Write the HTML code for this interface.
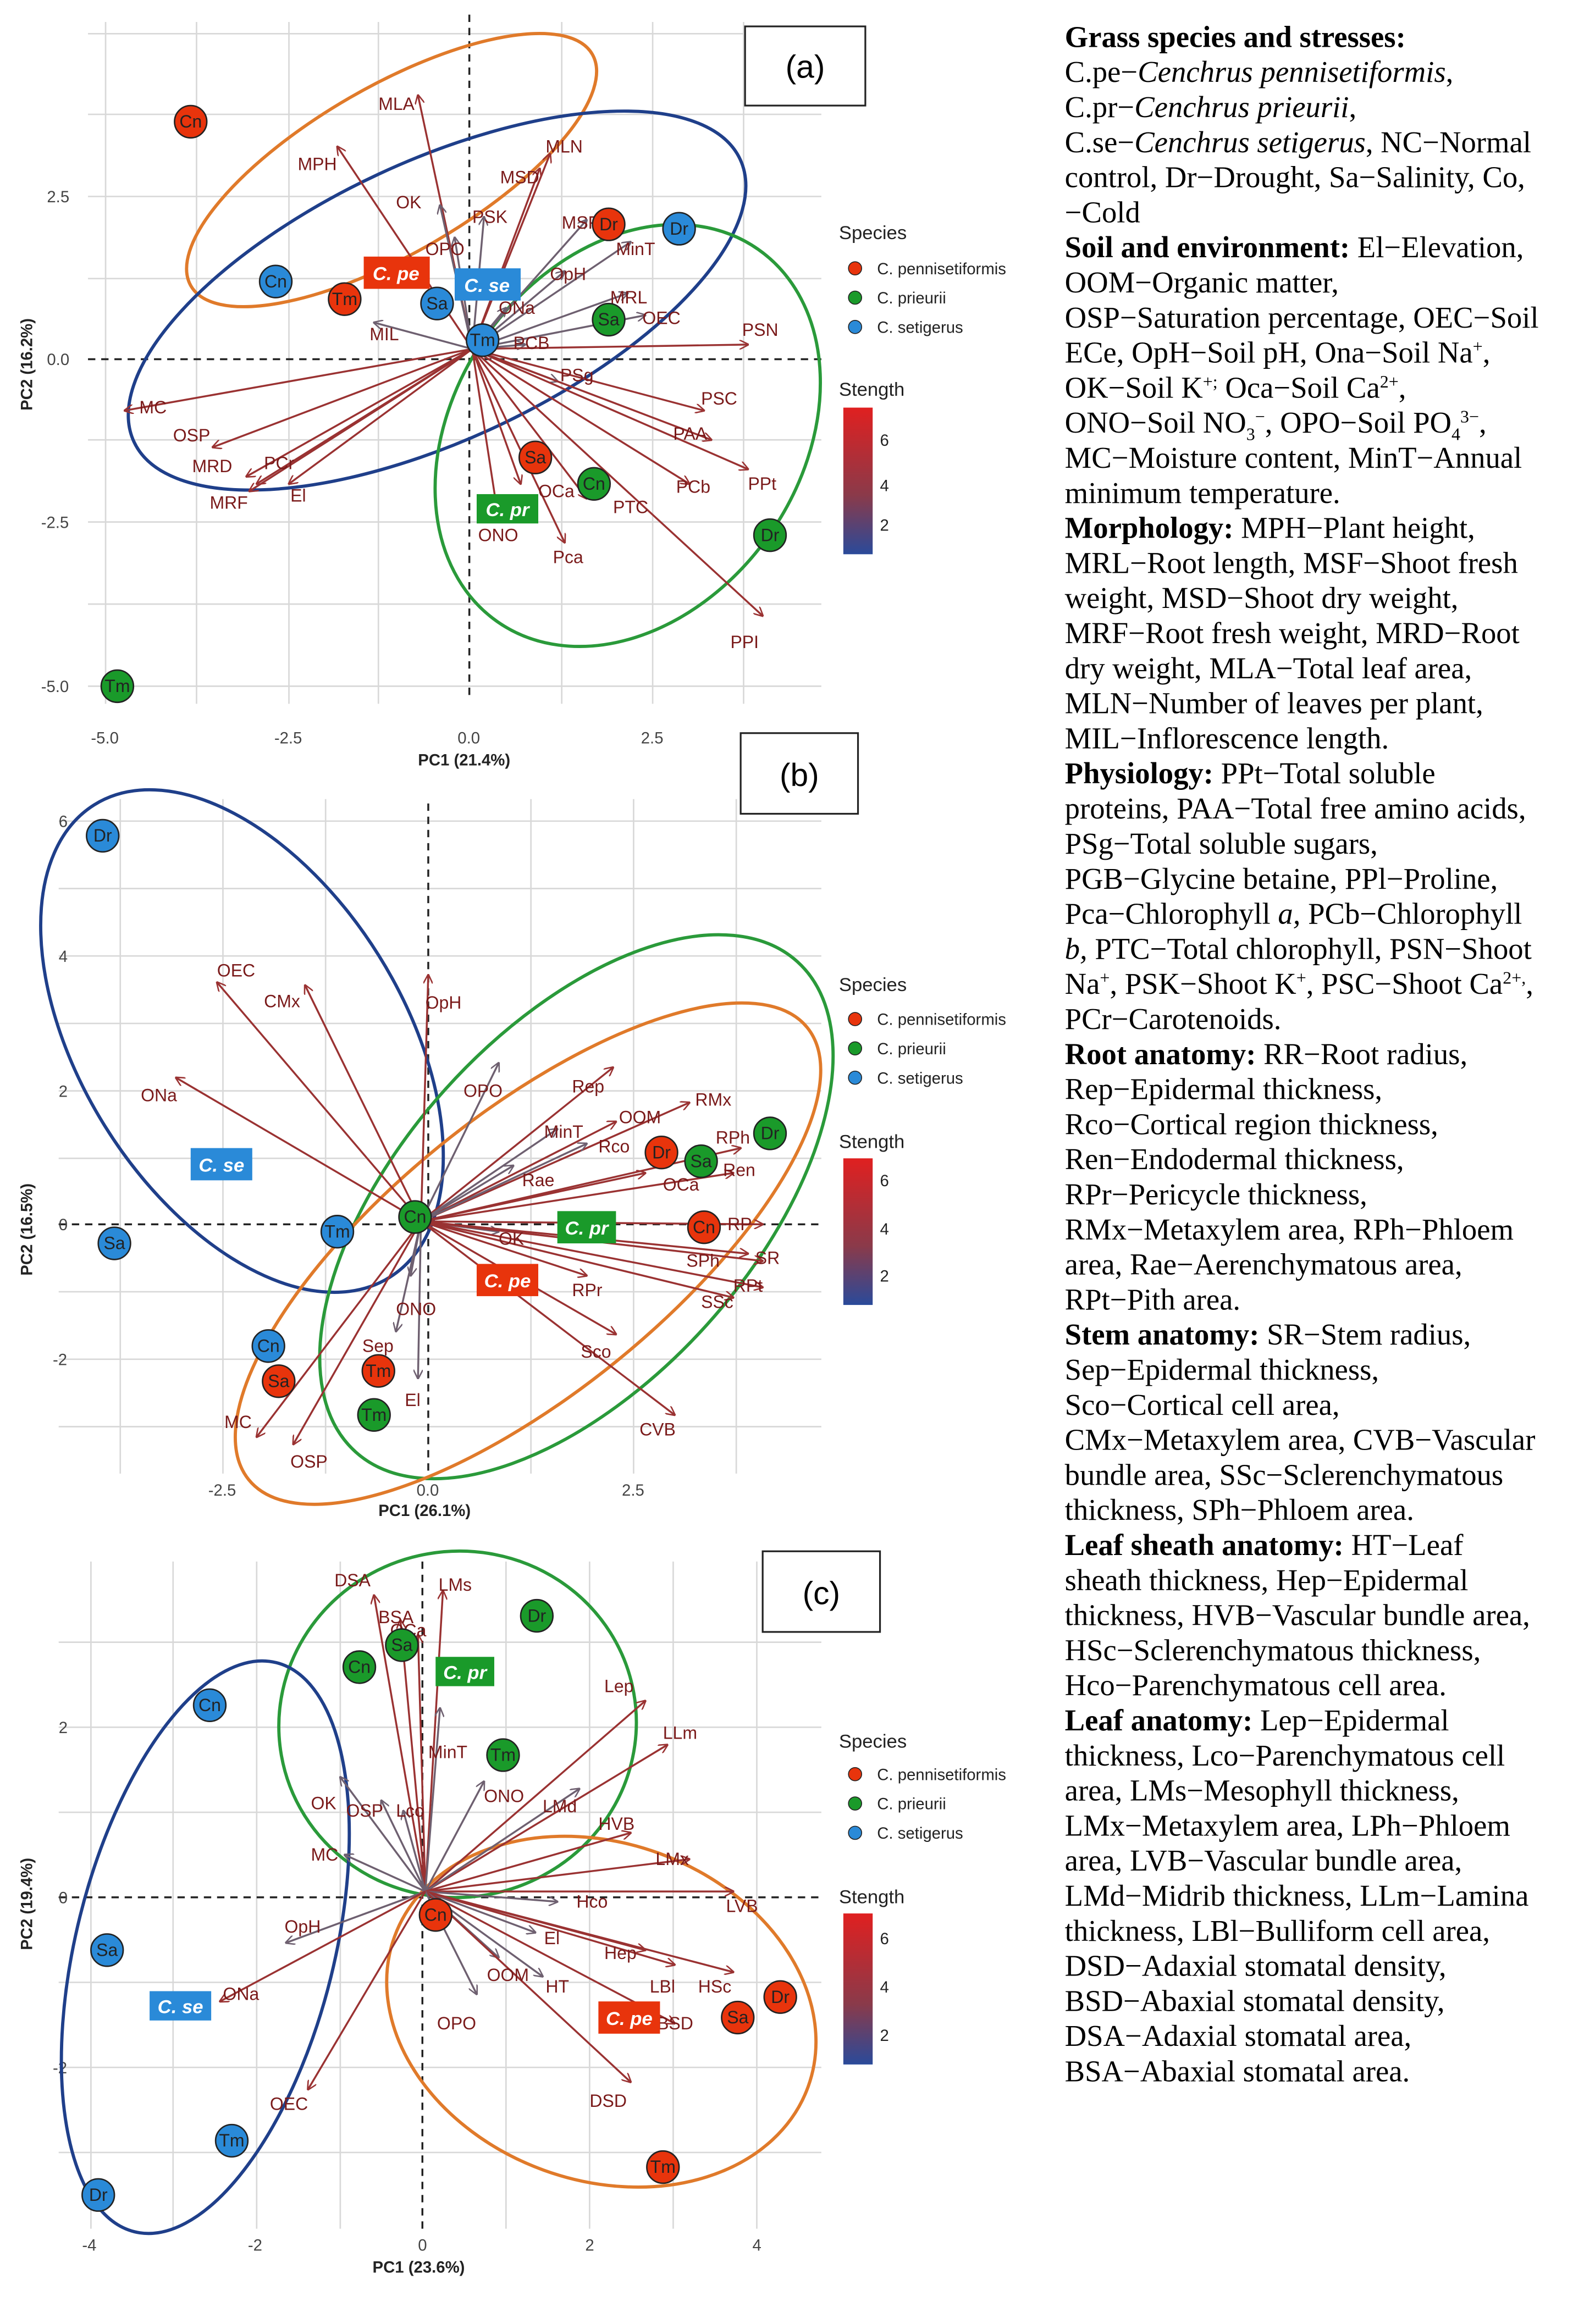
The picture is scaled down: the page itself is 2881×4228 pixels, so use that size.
<!DOCTYPE html>
<html><head><meta charset="utf-8">
<style>
html,body{margin:0;padding:0;background:#fff;}
svg{display:block;}
.a{stroke:#9a3232;stroke-width:1.3;marker-end:url(#ar);}
.g{stroke:#6e6070;stroke-width:1.3;marker-end:url(#ag);}
.l{font:12px "Liberation Sans",sans-serif;fill:#7a1a1a;}
.t{font:11px "Liberation Sans",sans-serif;fill:#444;}
.ax{font:bold 11px "Liberation Sans",sans-serif;fill:#222;}
.p{stroke:#222;stroke-width:1;}
.pt{font:12px "Liberation Sans",sans-serif;fill:#222;text-anchor:middle;}
.lg{font:11px "Liberation Sans",sans-serif;fill:#222;}
.d{stroke:#222;stroke-width:1.3;stroke-dasharray:5,4;}
.gr line{stroke:#d8d8d8;stroke-width:1;}
.rt{font:20.5px "Liberation Serif",serif;fill:#000;}
.bx{font:italic bold 13px "Liberation Sans",sans-serif;fill:#fff;text-anchor:middle;}
</style></head><body>
<svg width="2881" height="4228" viewBox="0 0 1080 1585" preserveAspectRatio="none" xmlns="http://www.w3.org/2000/svg">
<defs>
<marker id="ar" viewBox="0 0 10 10" refX="9" refY="5" markerWidth="5" markerHeight="5" orient="auto"><path d="M0,0 L10,5 L0,10" fill="none" stroke="#9a3232" stroke-width="1.5"/></marker>
<marker id="ag" viewBox="0 0 10 10" refX="9" refY="5" markerWidth="5" markerHeight="5" orient="auto"><path d="M0,0 L10,5 L0,10" fill="none" stroke="#6e6070" stroke-width="1.5"/></marker>
<linearGradient id="cb" x1="0" y1="0" x2="0" y2="1"><stop offset="0" stop-color="#e02020"/><stop offset="0.6" stop-color="#8a3a4a"/><stop offset="1" stop-color="#2a4a9a"/></linearGradient>
</defs>
<rect width="1080" height="1585" fill="#fff"/>

<!-- grids -->
<g class="gr">
<line x1="72" y1="15" x2="72" y2="480"/><line x1="134" y1="15" x2="134" y2="480"/><line x1="197" y1="15" x2="197" y2="480"/><line x1="258" y1="15" x2="258" y2="480"/><line x1="383" y1="15" x2="383" y2="480"/><line x1="445" y1="15" x2="445" y2="480"/><line x1="507" y1="15" x2="507" y2="480"/>
<line x1="60" y1="23" x2="560" y2="23"/><line x1="60" y1="78" x2="560" y2="78"/><line x1="60" y1="134" x2="560" y2="134"/><line x1="60" y1="190" x2="560" y2="190"/><line x1="60" y1="300" x2="560" y2="300"/><line x1="60" y1="356" x2="560" y2="356"/><line x1="60" y1="412" x2="560" y2="412"/><line x1="60" y1="468" x2="560" y2="468"/>

<line x1="82" y1="545" x2="82" y2="1005"/><line x1="152" y1="545" x2="152" y2="1005"/><line x1="222" y1="545" x2="222" y2="1005"/><line x1="362" y1="545" x2="362" y2="1005"/><line x1="432" y1="545" x2="432" y2="1005"/><line x1="502" y1="545" x2="502" y2="1005"/>
<line x1="40" y1="560" x2="560" y2="560"/><line x1="40" y1="606" x2="560" y2="606"/><line x1="40" y1="652" x2="560" y2="652"/><line x1="40" y1="698" x2="560" y2="698"/><line x1="40" y1="744" x2="560" y2="744"/><line x1="40" y1="790" x2="560" y2="790"/><line x1="40" y1="881" x2="560" y2="881"/><line x1="40" y1="927" x2="560" y2="927"/><line x1="40" y1="973" x2="560" y2="973"/>

<line x1="62" y1="1065" x2="62" y2="1520"/><line x1="118" y1="1065" x2="118" y2="1520"/><line x1="175" y1="1065" x2="175" y2="1520"/><line x1="232" y1="1065" x2="232" y2="1520"/><line x1="345" y1="1065" x2="345" y2="1520"/><line x1="402" y1="1065" x2="402" y2="1520"/><line x1="459" y1="1065" x2="459" y2="1520"/><line x1="516" y1="1065" x2="516" y2="1520"/>
<line x1="40" y1="1120" x2="560" y2="1120"/><line x1="40" y1="1178" x2="560" y2="1178"/><line x1="40" y1="1236" x2="560" y2="1236"/><line x1="40" y1="1352" x2="560" y2="1352"/><line x1="40" y1="1410" x2="560" y2="1410"/><line x1="40" y1="1468" x2="560" y2="1468"/>
</g>

<!-- ===== Panel A ===== -->
<line class="d" x1="320" y1="10" x2="320" y2="478"/>
<line class="d" x1="60" y1="245" x2="560" y2="245"/>
<text class="t" x="32" y="138">2.5</text><text class="t" x="32" y="249">0.0</text><text class="t" x="28" y="360">-2.5</text><text class="t" x="28" y="472">-5.0</text>
<text class="t" x="62" y="507">-5.0</text><text class="t" x="187" y="507">-2.5</text><text class="t" x="312" y="507">0.0</text><text class="t" x="437" y="507">2.5</text>
<text class="ax" x="285" y="522">PC1 (21.4%)</text>
<text class="ax" transform="translate(22,280) rotate(-90)">PC2 (16.2%)</text>
<rect x="508" y="18" width="82" height="54" fill="#fff" stroke="#222" stroke-width="1.2"/>
<text x="549" y="53" text-anchor="middle" style="font:22px 'Liberation Sans',sans-serif">(a)</text>

<ellipse cx="267" cy="116" rx="158" ry="57" transform="rotate(-30 267 116)" fill="none" stroke="#e07a2a" stroke-width="2.2"/>
<ellipse cx="298" cy="205" rx="228" ry="95" transform="rotate(-25 298 205)" fill="none" stroke="#1f3f8a" stroke-width="2.2"/>
<ellipse cx="428" cy="297" rx="155" ry="118" transform="rotate(-55 428 297)" fill="none" stroke="#2a9a3a" stroke-width="2.2"/>

<g>
<line class="a" x1="322" y1="238" x2="285" y2="65"/><line class="a" x1="322" y1="238" x2="230" y2="100"/>
<line class="a" x1="322" y1="238" x2="375" y2="105"/><line class="a" x1="322" y1="238" x2="368" y2="115"/>
<line class="g" x1="322" y1="238" x2="300" y2="140"/><line class="g" x1="322" y1="238" x2="330" y2="148"/>
<line class="g" x1="322" y1="238" x2="400" y2="150"/><line class="g" x1="322" y1="238" x2="310" y2="162"/>
<line class="g" x1="322" y1="238" x2="385" y2="185"/><line class="g" x1="322" y1="238" x2="430" y2="165"/>
<line class="g" x1="322" y1="238" x2="428" y2="200"/><line class="g" x1="322" y1="238" x2="345" y2="210"/>
<line class="g" x1="322" y1="238" x2="440" y2="215"/><line class="g" x1="322" y1="238" x2="255" y2="220"/>
<line class="g" x1="322" y1="238" x2="358" y2="235"/><line class="a" x1="322" y1="238" x2="510" y2="235"/>
<line class="g" x1="322" y1="238" x2="380" y2="260"/><line class="a" x1="322" y1="238" x2="480" y2="280"/>
<line class="a" x1="322" y1="238" x2="485" y2="300"/><line class="a" x1="322" y1="238" x2="510" y2="320"/>
<line class="a" x1="322" y1="238" x2="470" y2="330"/><line class="a" x1="322" y1="238" x2="520" y2="420"/>
<line class="a" x1="322" y1="238" x2="400" y2="340"/><line class="a" x1="322" y1="238" x2="385" y2="370"/>
<line class="a" x1="322" y1="238" x2="355" y2="330"/><line class="a" x1="322" y1="238" x2="340" y2="355"/>
<line class="a" x1="322" y1="238" x2="85" y2="280"/><line class="a" x1="322" y1="238" x2="145" y2="305"/>
<line class="a" x1="322" y1="238" x2="168" y2="325"/><line class="a" x1="322" y1="238" x2="175" y2="330"/>
<line class="a" x1="322" y1="238" x2="170" y2="335"/><line class="a" x1="322" y1="238" x2="197" y2="330"/>
</g>
<g class="l">
<text x="258" y="75">MLA</text><text x="203" y="116">MPH</text><text x="372" y="104">MLN</text><text x="341" y="125">MSD</text>
<text x="270" y="142">OK</text><text x="322" y="152">PSK</text><text x="383" y="156">MSF</text><text x="290" y="174">OPO</text>
<text x="375" y="191">OpH</text><text x="420" y="174">MinT</text><text x="416" y="207">MRL</text><text x="340" y="214">ONa</text>
<text x="438" y="221">OEC</text><text x="252" y="232">MIL</text><text x="350" y="238">PCB</text><text x="506" y="229">PSN</text>
<text x="382" y="260">PSg</text><text x="478" y="276">PSC</text><text x="459" y="300">PAA</text><text x="510" y="334">PPt</text>
<text x="461" y="336">PCb</text><text x="498" y="442">PPI</text><text x="418" y="350">PTC</text><text x="377" y="384">Pca</text>
<text x="367" y="339">OCa</text><text x="326" y="369">ONO</text><text x="95" y="282">MC</text><text x="118" y="301">OSP</text>
<text x="131" y="322">MRD</text><text x="180" y="320">PCr</text><text x="143" y="347">MRF</text><text x="198" y="342">El</text>
</g>
<g>
<circle class="p" cx="130" cy="83" r="11" fill="#e8340c"/><text class="pt" x="130" y="87">Cn</text>
<circle class="p" cx="415" cy="153" r="11" fill="#e8340c"/><text class="pt" x="415" y="157">Dr</text>
<circle class="p" cx="463" cy="156" r="11" fill="#2a8ad8"/><text class="pt" x="463" y="160">Dr</text>
<circle class="p" cx="188" cy="192" r="11" fill="#2a8ad8"/><text class="pt" x="188" y="196">Cn</text>
<circle class="p" cx="235" cy="204" r="11" fill="#e8340c"/><text class="pt" x="235" y="208">Tm</text>
<circle class="p" cx="298" cy="207" r="11" fill="#2a8ad8"/><text class="pt" x="298" y="211">Sa</text>
<circle class="p" cx="329" cy="232" r="11" fill="#2a8ad8"/><text class="pt" x="329" y="236">Tm</text>
<circle class="p" cx="415" cy="218" r="11" fill="#1a9a2a"/><text class="pt" x="415" y="222">Sa</text>
<circle class="p" cx="365" cy="312" r="11" fill="#e8340c"/><text class="pt" x="365" y="316">Sa</text>
<circle class="p" cx="405" cy="330" r="11" fill="#1a9a2a"/><text class="pt" x="405" y="334">Cn</text>
<circle class="p" cx="525" cy="365" r="11" fill="#1a9a2a"/><text class="pt" x="525" y="369">Dr</text>
<circle class="p" cx="80" cy="468" r="11" fill="#1a9a2a"/><text class="pt" x="80" y="472">Tm</text>
<rect x="248" y="175" width="45" height="22" fill="#e8340c"/><text class="bx" x="270" y="191">C. pe</text>
<rect x="310" y="183" width="45" height="22" fill="#2a8ad8"/><text class="bx" x="332" y="199">C. se</text>
<rect x="325" y="337" width="42" height="20" fill="#1a9a2a"/><text class="bx" x="346" y="352">C. pr</text>
</g>
<g class="lg">
<text x="572" y="163" style="font-size:13px">Species</text>
<circle cx="583" cy="183" r="4.5" fill="#e8340c" stroke="#222" stroke-width=".6"/><text x="598" y="187">C. pennisetiformis</text>
<circle cx="583" cy="203" r="4.5" fill="#1a9a2a" stroke="#222" stroke-width=".6"/><text x="598" y="207">C. prieurii</text>
<circle cx="583" cy="223" r="4.5" fill="#2a8ad8" stroke="#222" stroke-width=".6"/><text x="598" y="227">C. setigerus</text>
<text x="572" y="270" style="font-size:13px">Stength</text>
<rect x="575" y="278" width="20" height="100" fill="url(#cb)"/>
<text x="600" y="304">6</text><text x="600" y="335">4</text><text x="600" y="362">2</text>
</g>

<!-- ===== Panel B ===== -->
<line class="d" x1="292" y1="548" x2="292" y2="1005"/>
<line class="d" x1="40" y1="835" x2="560" y2="835"/>
<text class="t" x="40" y="564">6</text><text class="t" x="40" y="656">4</text><text class="t" x="40" y="748">2</text><text class="t" x="40" y="839">0</text><text class="t" x="36" y="931">-2</text>
<text class="t" x="142" y="1020">-2.5</text><text class="t" x="284" y="1020">0.0</text><text class="t" x="424" y="1020">2.5</text>
<text class="ax" x="258" y="1034">PC1 (26.1%)</text>
<text class="ax" transform="translate(22,870) rotate(-90)">PC2 (16.5%)</text>
<rect x="505" y="500" width="80" height="55" fill="#fff" stroke="#222" stroke-width="1.2"/>
<text x="545" y="536" text-anchor="middle" style="font:22px 'Liberation Sans',sans-serif">(b)</text>

<ellipse cx="165" cy="710" rx="190" ry="110" transform="rotate(58 165 710)" fill="none" stroke="#1f3f8a" stroke-width="2.2"/>
<ellipse cx="393" cy="823" rx="225" ry="120" transform="rotate(-48 393 823)" fill="none" stroke="#2a9a3a" stroke-width="2.2"/>
<ellipse cx="360" cy="855" rx="245" ry="95" transform="rotate(-39 360 855)" fill="none" stroke="#e07a2a" stroke-width="2.2"/>

<g>
<line class="a" x1="287" y1="833" x2="148" y2="670"/><line class="a" x1="287" y1="833" x2="208" y2="672"/>
<line class="a" x1="287" y1="833" x2="292" y2="665"/><line class="a" x1="287" y1="833" x2="120" y2="735"/>
<line class="g" x1="287" y1="833" x2="340" y2="725"/><line class="a" x1="287" y1="833" x2="418" y2="728"/>
<line class="a" x1="287" y1="833" x2="420" y2="765"/><line class="a" x1="287" y1="833" x2="470" y2="752"/>
<line class="g" x1="287" y1="833" x2="380" y2="770"/><line class="g" x1="287" y1="833" x2="400" y2="780"/>
<line class="g" x1="287" y1="833" x2="350" y2="795"/><line class="a" x1="287" y1="833" x2="505" y2="783"/>
<line class="a" x1="287" y1="833" x2="500" y2="800"/><line class="a" x1="287" y1="833" x2="440" y2="800"/>
<line class="a" x1="287" y1="833" x2="520" y2="835"/><line class="g" x1="287" y1="833" x2="340" y2="840"/>
<line class="a" x1="287" y1="833" x2="510" y2="855"/><line class="a" x1="287" y1="833" x2="520" y2="860"/>
<line class="a" x1="287" y1="833" x2="520" y2="878"/><line class="a" x1="287" y1="833" x2="400" y2="870"/>
<line class="a" x1="287" y1="833" x2="500" y2="885"/><line class="a" x1="287" y1="833" x2="420" y2="910"/>
<line class="a" x1="287" y1="833" x2="460" y2="965"/><line class="g" x1="287" y1="833" x2="280" y2="870"/>
<line class="g" x1="287" y1="833" x2="270" y2="908"/><line class="g" x1="287" y1="833" x2="285" y2="940"/>
<line class="a" x1="287" y1="833" x2="175" y2="980"/><line class="a" x1="287" y1="833" x2="200" y2="985"/>
</g>
<g class="l">
<text x="148" y="666">OEC</text><text x="180" y="687">CMx</text><text x="290" y="688">OpH</text><text x="96" y="751">ONa</text>
<text x="316" y="748">OPO</text><text x="390" y="745">Rep</text><text x="422" y="766">OOM</text><text x="474" y="754">RMx</text>
<text x="371" y="776">MinT</text><text x="408" y="786">Rco</text><text x="356" y="809">Rae</text><text x="488" y="780">RPh</text>
<text x="493" y="802">Ren</text><text x="452" y="812">OCa</text><text x="496" y="839">RP</text><text x="340" y="849">OK</text>
<text x="468" y="864">SPh</text><text x="515" y="862">SR</text><text x="500" y="881">RPt</text><text x="390" y="884">RPr</text>
<text x="478" y="892">SSc</text><text x="396" y="926">Sco</text><text x="436" y="979">CVB</text><text x="270" y="897">ONO</text>
<text x="247" y="922">Sep</text><text x="276" y="959">El</text><text x="153" y="974">MC</text><text x="198" y="1001">OSP</text>
</g>
<g>
<circle class="p" cx="70" cy="570" r="11" fill="#2a8ad8"/><text class="pt" x="70" y="574">Dr</text>
<circle class="p" cx="78" cy="848" r="11" fill="#2a8ad8"/><text class="pt" x="78" y="852">Sa</text>
<circle class="p" cx="230" cy="840" r="11" fill="#2a8ad8"/><text class="pt" x="230" y="844">Tm</text>
<circle class="p" cx="283" cy="830" r="11" fill="#1a9a2a"/><text class="pt" x="283" y="834">Cn</text>
<circle class="p" cx="451" cy="786" r="11" fill="#e8340c"/><text class="pt" x="451" y="790">Dr</text>
<circle class="p" cx="478" cy="792" r="11" fill="#1a9a2a"/><text class="pt" x="478" y="796">Sa</text>
<circle class="p" cx="525" cy="773" r="11" fill="#1a9a2a"/><text class="pt" x="525" y="777">Dr</text>
<circle class="p" cx="480" cy="837" r="11" fill="#e8340c"/><text class="pt" x="480" y="841">Cn</text>
<circle class="p" cx="183" cy="918" r="11" fill="#2a8ad8"/><text class="pt" x="183" y="922">Cn</text>
<circle class="p" cx="190" cy="942" r="11" fill="#e8340c"/><text class="pt" x="190" y="946">Sa</text>
<circle class="p" cx="258" cy="935" r="11" fill="#e8340c"/><text class="pt" x="258" y="939">Tm</text>
<circle class="p" cx="255" cy="965" r="11" fill="#1a9a2a"/><text class="pt" x="255" y="969">Tm</text>
<rect x="130" y="783" width="42" height="22" fill="#2a8ad8"/><text class="bx" x="151" y="799">C. se</text>
<rect x="380" y="826" width="40" height="22" fill="#1a9a2a"/><text class="bx" x="400" y="842">C. pr</text>
<rect x="325" y="862" width="42" height="22" fill="#e8340c"/><text class="bx" x="346" y="878">C. pe</text>
</g>
<g class="lg">
<text x="572" y="676" style="font-size:13px">Species</text>
<circle cx="583" cy="695" r="4.5" fill="#e8340c" stroke="#222" stroke-width=".6"/><text x="598" y="699">C. pennisetiformis</text>
<circle cx="583" cy="715" r="4.5" fill="#1a9a2a" stroke="#222" stroke-width=".6"/><text x="598" y="719">C. prieurii</text>
<circle cx="583" cy="735" r="4.5" fill="#2a8ad8" stroke="#222" stroke-width=".6"/><text x="598" y="739">C. setigerus</text>
<text x="572" y="783" style="font-size:13px">Stength</text>
<rect x="575" y="790" width="20" height="100" fill="url(#cb)"/>
<text x="600" y="809">6</text><text x="600" y="842">4</text><text x="600" y="874">2</text>
</g>

<!-- ===== Panel C ===== -->
<line class="d" x1="288" y1="1065" x2="288" y2="1520"/>
<line class="d" x1="40" y1="1294" x2="560" y2="1294"/>
<text class="t" x="40" y="1182">2</text><text class="t" x="40" y="1298">0</text><text class="t" x="36" y="1414">-2</text>
<text class="t" x="56" y="1535">-4</text><text class="t" x="169" y="1535">-2</text><text class="t" x="285" y="1535">0</text><text class="t" x="399" y="1535">2</text><text class="t" x="513" y="1535">4</text>
<text class="ax" x="254" y="1550">PC1 (23.6%)</text>
<text class="ax" transform="translate(22,1330) rotate(-90)">PC2 (19.4%)</text>
<rect x="520" y="1058" width="80" height="55" fill="#fff" stroke="#222" stroke-width="1.2"/>
<text x="560" y="1094" text-anchor="middle" style="font:22px 'Liberation Sans',sans-serif">(c)</text>

<ellipse cx="312" cy="1176" rx="122" ry="118" transform="rotate(-10 312 1176)" fill="none" stroke="#2a9a3a" stroke-width="2.2"/>
<ellipse cx="140" cy="1328" rx="200" ry="88" transform="rotate(-76 140 1328)" fill="none" stroke="#1f3f8a" stroke-width="2.2"/>
<ellipse cx="410" cy="1372" rx="150" ry="115" transform="rotate(20 410 1372)" fill="none" stroke="#e07a2a" stroke-width="2.2"/>

<g>
<line class="a" x1="290" y1="1290" x2="255" y2="1088"/><line class="a" x1="290" y1="1290" x2="302" y2="1085"/>
<line class="a" x1="290" y1="1290" x2="273" y2="1105"/><line class="a" x1="290" y1="1290" x2="285" y2="1115"/>
<line class="g" x1="290" y1="1290" x2="300" y2="1165"/><line class="a" x1="290" y1="1290" x2="440" y2="1160"/>
<line class="a" x1="290" y1="1290" x2="455" y2="1190"/><line class="g" x1="290" y1="1290" x2="232" y2="1212"/>
<line class="g" x1="290" y1="1290" x2="260" y2="1228"/><line class="g" x1="290" y1="1290" x2="275" y2="1235"/>
<line class="g" x1="290" y1="1290" x2="330" y2="1215"/><line class="g" x1="290" y1="1290" x2="395" y2="1220"/>
<line class="a" x1="290" y1="1290" x2="430" y2="1250"/><line class="g" x1="290" y1="1290" x2="235" y2="1265"/>
<line class="a" x1="290" y1="1290" x2="470" y2="1268"/><line class="a" x1="290" y1="1290" x2="500" y2="1290"/>
<line class="g" x1="290" y1="1290" x2="380" y2="1297"/><line class="g" x1="290" y1="1290" x2="195" y2="1325"/>
<line class="g" x1="290" y1="1290" x2="365" y2="1318"/><line class="a" x1="290" y1="1290" x2="440" y2="1330"/>
<line class="a" x1="290" y1="1290" x2="460" y2="1340"/><line class="a" x1="290" y1="1290" x2="500" y2="1345"/>
<line class="a" x1="290" y1="1290" x2="460" y2="1380"/><line class="a" x1="290" y1="1290" x2="150" y2="1365"/>
<line class="g" x1="290" y1="1290" x2="340" y2="1335"/><line class="g" x1="290" y1="1290" x2="370" y2="1348"/>
<line class="a" x1="290" y1="1290" x2="430" y2="1420"/><line class="g" x1="290" y1="1290" x2="325" y2="1360"/>
<line class="a" x1="290" y1="1290" x2="210" y2="1425"/>
</g>
<g class="l">
<text x="228" y="1082">DSA</text><text x="299" y="1085">LMs</text><text x="258" y="1107">BSA</text><text x="266" y="1116">OCa</text>
<text x="292" y="1199">MinT</text><text x="412" y="1154">Lep</text><text x="452" y="1186">LLm</text><text x="212" y="1234">OK</text>
<text x="236" y="1239">OSP</text><text x="270" y="1239">Lco</text><text x="330" y="1229">ONO</text><text x="370" y="1236">LMd</text>
<text x="408" y="1248">HVB</text><text x="212" y="1269">MC</text><text x="447" y="1272">LMx</text><text x="495" y="1304">LVB</text>
<text x="393" y="1301">Hco</text><text x="194" y="1318">OpH</text><text x="371" y="1326">El</text><text x="412" y="1336">Hep</text>
<text x="443" y="1359">LBl</text><text x="476" y="1359">HSc</text><text x="448" y="1384">BSD</text><text x="152" y="1364">ONa</text>
<text x="332" y="1351">OOM</text><text x="372" y="1359">HT</text><text x="402" y="1437">DSD</text><text x="298" y="1384">OPO</text>
<text x="184" y="1439">OEC</text>
</g>
<g>
<circle class="p" cx="366" cy="1102" r="11" fill="#1a9a2a"/><text class="pt" x="366" y="1106">Dr</text>
<circle class="p" cx="274" cy="1122" r="11" fill="#1a9a2a"/><text class="pt" x="274" y="1126">Sa</text>
<circle class="p" cx="245" cy="1137" r="11" fill="#1a9a2a"/><text class="pt" x="245" y="1141">Cn</text>
<circle class="p" cx="143" cy="1163" r="11" fill="#2a8ad8"/><text class="pt" x="143" y="1167">Cn</text>
<circle class="p" cx="343" cy="1197" r="11" fill="#1a9a2a"/><text class="pt" x="343" y="1201">Tm</text>
<circle class="p" cx="297" cy="1306" r="11" fill="#e8340c"/><text class="pt" x="297" y="1310">Cn</text>
<circle class="p" cx="73" cy="1330" r="11" fill="#2a8ad8"/><text class="pt" x="73" y="1334">Sa</text>
<circle class="p" cx="532" cy="1362" r="11" fill="#e8340c"/><text class="pt" x="532" y="1366">Dr</text>
<circle class="p" cx="503" cy="1376" r="11" fill="#e8340c"/><text class="pt" x="503" y="1380">Sa</text>
<circle class="p" cx="158" cy="1460" r="11" fill="#2a8ad8"/><text class="pt" x="158" y="1464">Tm</text>
<circle class="p" cx="452" cy="1478" r="11" fill="#e8340c"/><text class="pt" x="452" y="1482">Tm</text>
<circle class="p" cx="67" cy="1497" r="11" fill="#2a8ad8"/><text class="pt" x="67" y="1501">Dr</text>
<rect x="297" y="1130" width="40" height="20" fill="#1a9a2a"/><text class="bx" x="317" y="1145">C. pr</text>
<rect x="102" y="1358" width="42" height="20" fill="#2a8ad8"/><text class="bx" x="123" y="1373">C. se</text>
<rect x="408" y="1365" width="42" height="22" fill="#e8340c"/><text class="bx" x="429" y="1381">C. pe</text>
</g>
<g class="lg">
<text x="572" y="1192" style="font-size:13px">Species</text>
<circle cx="583" cy="1210" r="4.5" fill="#e8340c" stroke="#222" stroke-width=".6"/><text x="598" y="1214">C. pennisetiformis</text>
<circle cx="583" cy="1230" r="4.5" fill="#1a9a2a" stroke="#222" stroke-width=".6"/><text x="598" y="1234">C. prieurii</text>
<circle cx="583" cy="1250" r="4.5" fill="#2a8ad8" stroke="#222" stroke-width=".6"/><text x="598" y="1254">C. setigerus</text>
<text x="572" y="1298" style="font-size:13px">Stength</text>
<rect x="575" y="1305" width="20" height="103" fill="url(#cb)"/>
<text x="600" y="1326">6</text><text x="600" y="1359">4</text><text x="600" y="1392">2</text>
</g>

<!-- ===== Right text ===== -->
<g class="rt">
<text x="726" y="32"><tspan font-weight="bold">Grass species and stresses:</tspan></text>
<text x="726" y="55.9">C.pe−<tspan font-style="italic">Cenchrus pennisetiformis</tspan>,</text>
<text x="726" y="79.8">C.pr−<tspan font-style="italic">Cenchrus prieurii</tspan>,</text>
<text x="726" y="103.8">C.se−<tspan font-style="italic">Cenchrus setigerus</tspan>, NC−Normal</text>
<text x="726" y="127.7">control, Dr−Drought, Sa−Salinity, Co,</text>
<text x="726" y="151.6">−Cold</text>
<text x="726" y="175.5"><tspan font-weight="bold">Soil and environment:</tspan> El−Elevation,</text>
<text x="726" y="199.4">OOM−Organic matter,</text>
<text x="726" y="223.4">OSP−Saturation percentage, OEC−Soil</text>
<text x="726" y="247.3">ECe, OpH−Soil pH, Ona−Soil Na<tspan font-size="12" dy="-7">+</tspan><tspan dy="7">,</tspan></text>
<text x="726" y="271.2">OK−Soil K<tspan font-size="12" dy="-7">+;</tspan><tspan dy="7"> Oca−Soil Ca</tspan><tspan font-size="12" dy="-7">2+</tspan><tspan dy="7">,</tspan></text>
<text x="726" y="295.1">ONO−Soil NO<tspan font-size="12" dy="5">3</tspan><tspan font-size="12" dy="-12">−</tspan><tspan dy="7">, OPO−Soil PO</tspan><tspan font-size="12" dy="5">4</tspan><tspan font-size="12" dy="-12">3−</tspan><tspan dy="7">,</tspan></text>
<text x="726" y="319">MC−Moisture content, MinT−Annual</text>
<text x="726" y="343">minimum temperature.</text>
<text x="726" y="366.9"><tspan font-weight="bold">Morphology:</tspan> MPH−Plant height,</text>
<text x="726" y="390.8">MRL−Root length, MSF−Shoot fresh</text>
<text x="726" y="414.7">weight, MSD−Shoot dry weight,</text>
<text x="726" y="438.6">MRF−Root fresh weight, MRD−Root</text>
<text x="726" y="462.6">dry weight, MLA−Total leaf area,</text>
<text x="726" y="486.5">MLN−Number of leaves per plant,</text>
<text x="726" y="510.4">MIL−Inflorescence length.</text>
<text x="726" y="534.3"><tspan font-weight="bold">Physiology:</tspan> PPt−Total soluble</text>
<text x="726" y="558.2">proteins, PAA−Total free amino acids,</text>
<text x="726" y="582.2">PSg−Total soluble sugars,</text>
<text x="726" y="606.1">PGB−Glycine betaine, PPl−Proline,</text>
<text x="726" y="630">Pca−Chlorophyll <tspan font-style="italic">a,</tspan> PCb−Chlorophyll</text>
<text x="726" y="653.9"><tspan font-style="italic">b,</tspan> PTC−Total chlorophyll, PSN−Shoot</text>
<text x="726" y="677.8">Na<tspan font-size="12" dy="-7">+</tspan><tspan dy="7">, PSK−Shoot K</tspan><tspan font-size="12" dy="-7">+</tspan><tspan dy="7">, PSC−Shoot Ca</tspan><tspan font-size="12" dy="-7">2+,</tspan><tspan dy="7">,</tspan></text>
<text x="726" y="701.8">PCr−Carotenoids.</text>
<text x="726" y="725.7"><tspan font-weight="bold">Root anatomy:</tspan> RR−Root radius,</text>
<text x="726" y="749.6">Rep−Epidermal thickness,</text>
<text x="726" y="773.5">Rco−Cortical region thickness,</text>
<text x="726" y="797.4">Ren−Endodermal thickness,</text>
<text x="726" y="821.4">RPr−Pericycle thickness,</text>
<text x="726" y="845.3">RMx−Metaxylem area, RPh−Phloem</text>
<text x="726" y="869.2">area, Rae−Aerenchymatous area,</text>
<text x="726" y="893.1">RPt−Pith area.</text>
<text x="726" y="917"><tspan font-weight="bold">Stem anatomy:</tspan> SR−Stem radius,</text>
<text x="726" y="941">Sep−Epidermal thickness,</text>
<text x="726" y="964.9">Sco−Cortical cell area,</text>
<text x="726" y="988.8">CMx−Metaxylem area, CVB−Vascular</text>
<text x="726" y="1012.7">bundle area, SSc−Sclerenchymatous</text>
<text x="726" y="1036.6">thickness, SPh−Phloem area.</text>
<text x="726" y="1060.6"><tspan font-weight="bold">Leaf sheath anatomy:</tspan> HT−Leaf</text>
<text x="726" y="1084.5">sheath thickness, Hep−Epidermal</text>
<text x="726" y="1108.4">thickness, HVB−Vascular bundle area,</text>
<text x="726" y="1132.3">HSc−Sclerenchymatous thickness,</text>
<text x="726" y="1156.2">Hco−Parenchymatous cell area.</text>
<text x="726" y="1180.2"><tspan font-weight="bold">Leaf anatomy:</tspan> Lep−Epidermal</text>
<text x="726" y="1204.1">thickness, Lco−Parenchymatous cell</text>
<text x="726" y="1228">area, LMs−Mesophyll thickness,</text>
<text x="726" y="1251.9">LMx−Metaxylem area, LPh−Phloem</text>
<text x="726" y="1275.8">area, LVB−Vascular bundle area,</text>
<text x="726" y="1299.8">LMd−Midrib thickness, LLm−Lamina</text>
<text x="726" y="1323.7">thickness, LBl−Bulliform cell area,</text>
<text x="726" y="1347.6">DSD−Adaxial stomatal density,</text>
<text x="726" y="1371.5">BSD−Abaxial stomatal density,</text>
<text x="726" y="1395.4">DSA−Adaxial stomatal area,</text>
<text x="726" y="1419.4">BSA−Abaxial stomatal area.</text>
</g>
</svg>
</body></html>
